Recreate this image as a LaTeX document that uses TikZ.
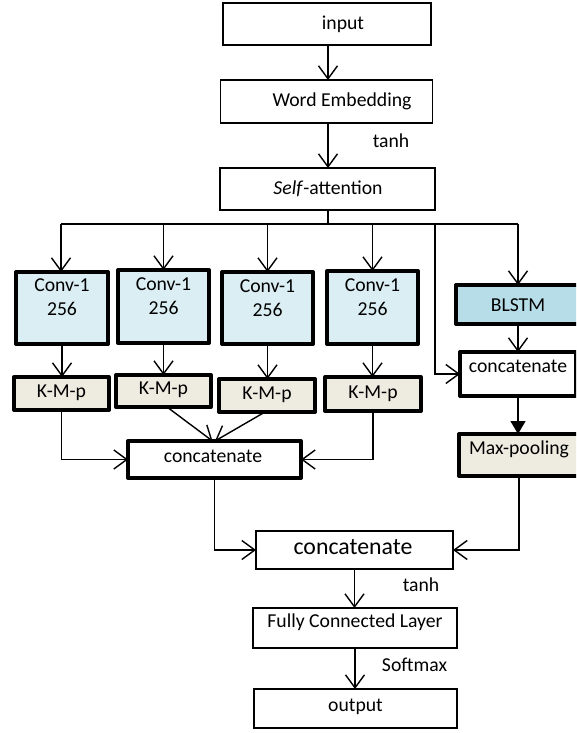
\documentclass[tikz,border=0pt]{standalone}
\usepackage{fontspec}
\setmainfont{Carlito}
\usetikzlibrary{arrows.meta,calc}
\definecolor{convfill}{HTML}{DAEEF3}
\definecolor{blstmfill}{HTML}{B7DEE8}
\definecolor{tanfill}{HTML}{EEECE1}
\begin{document}
\begin{tikzpicture}[x=1pt,y=-1pt,
  every node/.style={font=\fontsize{19.7pt}{23.5pt}\selectfont, inner sep=0pt, outer sep=0pt},
  thinbox/.style={draw, line width=1.9pt, fill=white},
  thickbox/.style={draw, line width=4pt, line join=round, fill=white},
  convbox/.style={thickbox, fill=convfill},
  tanbox/.style={thickbox, fill=tanfill},
  lbl/.style={},
  conn/.style={line width=1.4pt},
  arr/.style={conn, -{Straight Barb[length=13pt,width=19pt,line width=1.4pt]}},
  tri/.style={conn, -{Triangle[length=13pt,width=15pt]}}]
\useasboundingbox (0,0) rectangle (576,733);
\fill[white] (0,0) rectangle (576,733);
\clip (0,0) rectangle (576,733);

% top chain
\node[thinbox, minimum width=208pt, minimum height=42pt] (input) at (327,24) {};
\node (inputt) at (343,24) {input};
\node[thinbox, minimum width=212pt, minimum height=43pt] (we) at (326.5,101.5) {};
\node (wet) at (342,101.5) {Word Embedding};
\node[thinbox, minimum width=215pt, minimum height=42pt] (sa) at (327.5,189) {};
\node (sat) at (328,189) {\textit{Self}-attention};
\node (tanh1) at (391,141) {tanh};

% conv boxes
\node[convbox, minimum width=92pt, minimum height=72pt] (conv1) at (62,308) {};
\node[convbox, minimum width=91pt, minimum height=73pt] (conv2) at (163.5,306.5) {};
\node[convbox, minimum width=91pt, minimum height=72pt] (conv3) at (267.5,308) {};
\node[convbox, minimum width=91pt, minimum height=73pt] (conv4) at (372.5,307.5) {};
\node[align=center] (conv1t) at (62,297) {Conv-1\\256};
\node[align=center] (conv2t) at (163.5,296) {Conv-1\\256};
\node[align=center] (conv3t) at (267.5,298) {Conv-1\\256};
\node[align=center] (conv4t) at (372.5,297) {Conv-1\\256};

% K-M-p boxes
\node[tanbox, minimum width=95pt, minimum height=33pt] (kmp1) at (61.5,393.5) {};
\node[tanbox, minimum width=95pt, minimum height=32pt] (kmp2) at (163.5,391) {};
\node[tanbox, minimum width=96pt, minimum height=33pt] (kmp3) at (267,395.5) {};
\node[tanbox, minimum width=96pt, minimum height=34pt] (kmp4) at (373,394) {};
\node (kmp1t) at (61.5,393) {K-M-p};
\node (kmp2t) at (163.5,390) {K-M-p};
\node (kmp3t) at (267,395) {K-M-p};
\node (kmp4t) at (373,393.5) {K-M-p};

% middle concatenate
\node[thickbox, minimum width=173pt, minimum height=37pt] (midcat) at (214.5,459.5) {};
\node (midcatt) at (213,456) {concatenate};

% right branch
\node[thickbox, fill=blstmfill, minimum width=124pt, minimum height=39pt] (blstm) at (518,304.5) {};
\node (blstmt) at (518,305) {BLSTM};
\node[thickbox, minimum width=116pt, minimum height=44pt] (catr) at (518,374) {};
\node (catrt) at (518,366) {concatenate};
\node[tanbox, minimum width=120pt, minimum height=42pt] (maxp) at (519,455) {};
\node (maxpt) at (519,449) {Max-pooling};

% bottom chain
\node[thinbox, minimum width=197pt, minimum height=38pt] (bigcat) at (354.5,550) {};
\node[font=\fontsize{23.8pt}{28pt}\selectfont] (bigcatt) at (353,547) {concatenate};
\node (tanh2) at (421,585) {tanh};
\node[thinbox, minimum width=204pt, minimum height=40pt] (fc) at (355,628) {};
\node (fct) at (355,622) {Fully Connected Layer};
\node (softmax) at (414.5,665) {Softmax};
\node[thinbox, minimum width=203pt, minimum height=39pt] (output) at (355.5,708.5) {};
\node (outputt) at (355.5,707) {output};

% connectors: top chain
\draw[arr] (328,0 |- input.south) -- (328,0 |- we.north);
\draw[arr] (328,0 |- we.south) -- (328,0 |- sa.north);

% bus
\coordinate (busL) at (61,224);
\coordinate (busR) at (518,224);
\coordinate (tap) at (435,224);
\draw[conn] (328,0 |- sa.south) -- (328,224);
\draw[conn] (busL) -- (busR);
\draw[arr] (busL) -- (busL |- conv1.north);
\draw[arr] (conv2.north |- busL) -- (conv2.north);
\draw[arr] (conv3.north |- busL) -- (conv3.north);
\draw[arr] (conv4.north |- busL) -- (conv4.north);
\draw[arr] (busR) -- (blstm.north);
\draw[arr] (tap) |- (catr.west);

% conv -> kmp
\draw[arr] (conv1.south) -- (conv1.south |- kmp1.north);
\draw[arr] (conv2.south) -- (conv2.south |- kmp2.north);
\draw[arr] (conv3.south) -- (conv3.south |- kmp3.north);
\draw[arr] (conv4.south) -- (conv4.south |- kmp4.north);

% kmp -> middle concatenate
\draw[arr] (kmp1.south) |- (midcat.west);
\draw[arr] ($(kmp2.south)+(3.5,0)$) -- ($(midcat.north)+(-2,0)$);
\draw[arr] ($(kmp3.south)+(-2,0)$) -- ($(midcat.north)+(0.5,0)$);
\draw[arr] (kmp4.south) |- (midcat.east);

% right branch
\draw[arr] (blstm.south) -- (catr.north);
\draw[tri] (catr.south) -- (catr.south |- maxp.north);

% into big concatenate
\draw[arr] (midcat.south) |- (bigcat.west);
\draw[arr] (maxp.south) |- (bigcat.east);

% bottom chain
\draw[arr] (bigcat.south) -- (bigcat.south |- fc.north);
\draw[arr] (fc.south) -- (fc.south |- output.north);
\end{tikzpicture}
\end{document}
